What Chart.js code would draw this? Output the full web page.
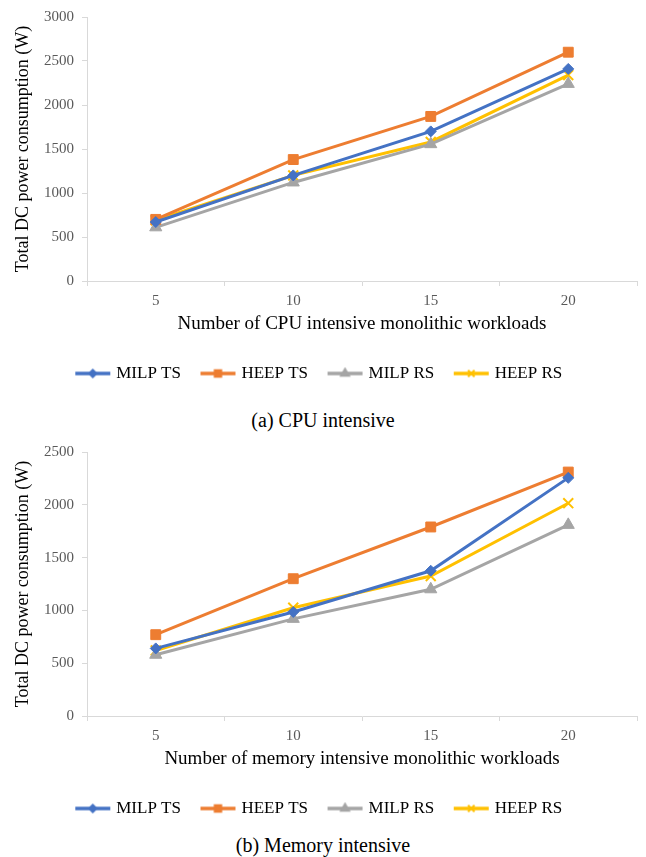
<!DOCTYPE html>
<html>
<head>
<meta charset="utf-8">
<script src="https://cdn.jsdelivr.net/npm/chart.js@4/dist/chart.umd.min.js"></script>
<style>
  body { margin: 0; background: #fff; width: 646px; height: 857px; position: relative; font-family: "Liberation Serif", "Times New Roman", serif; }
  .box { position: absolute; left: 0; width: 646px; height: 392px; }
  .cap { position: absolute; left: 0; width: 646px; text-align: center; font-size: 20px; color: #000; line-height: 24px; }
</style>
</head>
<body>
<div class="box" style="top:0"><canvas id="cpuChart"></canvas></div>
<div class="cap" style="top:408px">(a) CPU intensive</div>
<div class="box" style="top:435px"><canvas id="memChart"></canvas></div>
<div class="cap" style="top:833px">(b) Memory intensive</div>
<script>
// x categories (number of workloads)
const workloads = ['5', '10', '15', '20'];
const seriesNames = ['MILP TS', 'HEEP TS', 'MILP RS', 'HEEP RS'];

// (a) CPU intensive
const cpuMilpTs = [670, 1200, 1700, 2410];
const cpuHeepTs = [700, 1380, 1870, 2600];
const cpuMilpRs = [610, 1120, 1555, 2240];
const cpuHeepRs = [690, 1200, 1580, 2340];

// (b) Memory intensive
const memMilpTs = [640, 985, 1375, 2255];
const memHeepTs = [770, 1300, 1790, 2310];
const memMilpRs = [580, 920, 1200, 1810];
const memHeepRs = [620, 1025, 1325, 2015];

const colors = ['#4472C4', '#ED7D31', '#A5A5A5', '#FFC000'];
const markers = [
  { pointStyle: 'rectRot', radius: 5.5 },
  { pointStyle: 'rect', radius: 7 },
  { pointStyle: 'triangle', radius: 7 },
  { pointStyle: 'crossRot', radius: 7 }
];

Chart.defaults.font.family = '"Liberation Serif", "Times New Roman", serif';

// little line + marker picture for the legend
const legendIcon = (i) => {
  const c = document.createElement('canvas');
  c.width = 37;
  c.height = 14;
  const ctx = c.getContext('2d');
  ctx.strokeStyle = colors[i];
  ctx.lineWidth = 3.5;
  ctx.beginPath();
  ctx.moveTo(1, 7);
  ctx.lineTo(36, 7);
  ctx.stroke();
  ctx.fillStyle = colors[i];
  ctx.lineWidth = 2;
  Chart.helpers.drawPoint(ctx, {
    pointStyle: markers[i].pointStyle,
    radius: markers[i].radius * 0.65,
    rotation: 0,
    borderWidth: 2
  }, 18.5, 7);
  return c;
};

const makeChart = (id, xTitle, yMax, values) => {
  const icons = values.map((v, i) => legendIcon(i));
  return new Chart(document.getElementById(id), {
    type: 'line',
    data: {
      labels: workloads,
      datasets: values.map((data, i) => ({
        label: seriesNames[i],
        data,
        borderColor: colors[i],
        backgroundColor: colors[i],
        borderWidth: 3,
        pointStyle: markers[i].pointStyle,
        pointRadius: markers[i].radius,
        pointBorderWidth: i === 3 ? 2 : 1,
        pointBorderColor: colors[i],
        pointBackgroundColor: colors[i],
        tension: 0
      }))
    },
    options: {
      responsive: true,
      maintainAspectRatio: false,
      animation: false,
      layout: { padding: { top: 15, right: 6, left: 0, bottom: 0 } },
      plugins: {
        tooltip: { enabled: false },
        legend: {
          position: 'bottom',
          labels: {
            usePointStyle: true,
            pointStyleWidth: 30,
            padding: 22,
            color: '#000',
            font: { size: 17 },
            generateLabels: (chart) => chart.data.datasets.map((ds, i) => ({
              text: ds.label,
              pointStyle: icons[i],
              fontColor: '#000',
              strokeStyle: colors[i],
              fillStyle: colors[i],
              lineWidth: 0,
              datasetIndex: i
            }))
          }
        }
      },
      scales: {
        x: {
          offset: true,
          grid: {
            offset: true,
            drawOnChartArea: false,
            drawTicks: true,
            tickLength: 5,
            color: '#D9D9D9'
          },
          border: { color: '#D9D9D9' },
          ticks: { color: '#595959', font: { size: 15 }, padding: 6 },
          title: {
            display: true,
            text: xTitle,
            color: '#000',
            font: { size: 19 },
            padding: { top: 8, bottom: 8 }
          },
          afterFit: (scale) => { scale.height = 62; }
        },
        y: {
          min: 0,
          max: yMax,
          grid: {
            drawOnChartArea: false,
            drawTicks: true,
            tickLength: 5,
            color: '#D9D9D9'
          },
          border: { color: '#D9D9D9' },
          ticks: {
            stepSize: 500,
            color: '#595959',
            font: { size: 15 },
            padding: 8,
            callback: (value) => String(value)
          },
          title: {
            display: true,
            text: 'Total DC power consumption (W)',
            color: '#000',
            font: { size: 18 },
            padding: { top: 12, bottom: 12 }
          },
          afterFit: (scale) => { scale.width = 87; }
        }
      }
    }
  });
};

makeChart('cpuChart', 'Number of CPU intensive monolithic workloads', 3000,
  [cpuMilpTs, cpuHeepTs, cpuMilpRs, cpuHeepRs]);
makeChart('memChart', 'Number of memory intensive monolithic workloads', 2500,
  [memMilpTs, memHeepTs, memMilpRs, memHeepRs]);
</script>
</body>
</html>
